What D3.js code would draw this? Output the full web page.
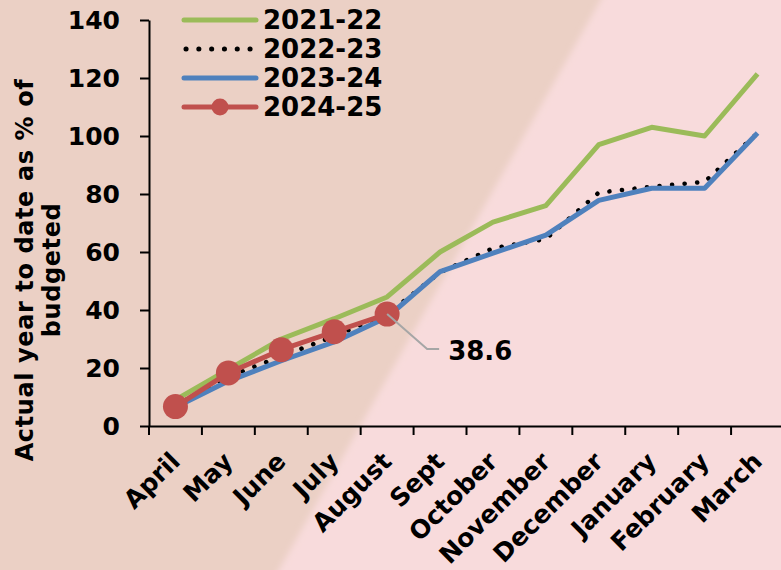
<!DOCTYPE html>
<html>
<head>
<meta charset="utf-8">
<script src="https://cdn.jsdelivr.net/npm/d3@7"></script>
<style>
  body { margin: 0; overflow: hidden; }
  text { font-family: "DejaVu Sans", Verdana, sans-serif; font-weight: bold; fill: #000; }
</style>
</head>
<body>
<div id="chart"></div>
<script>
// data
const months = ["April", "May", "June", "July", "August", "Sept", "October",
                "November", "December", "January", "February", "March"];
const fy2122 = [9, 19.5, 30, 37, 44.5, 60, 70.3, 76, 97, 103, 100, 121.4];
const fy2223 = [7, 17, 24, 31, 38.5, 53, 61.3, 64.5, 80.5, 82.5, 84.2, 101];
const fy2324 = [6.5, 15.5, 22.5, 29, 37.5, 53.2, 59.6, 65.8, 77.8, 82, 82, 101];
const fy2425 = [6.7, 18.3, 26.3, 32.5, 38.6];
const yTicks = [0, 20, 40, 60, 80, 100, 120, 140];
const seriesNames = ["2021-22", "2022-23", "2023-24", "2024-25"];

const W = 781, H = 570;
const svg = d3.select("#chart").append("svg")
    .attr("width", W)
    .attr("height", H);

// background: tan on the left, pink on the right, diagonal edge
const defs = svg.append("defs");
defs.append("filter").attr("id", "soft")
    .append("feGaussianBlur").attr("stdDeviation", 3);

svg.append("rect")
    .attr("width", W).attr("height", H)
    .attr("fill", "#EBD0C5");
svg.append("polygon")
    .attr("points", "612,-20 900,-20 900,600 262,600")
    .attr("fill", "#F8DBDC")
    .attr("filter", "url(#soft)");

const x = d3.scaleBand()
    .domain(months)
    .range([149, 784]);

const y = d3.scaleLinear()
    .domain([0, 140])
    .range([426, 20]);

// axes
const yAxis = svg.append("g")
    .attr("transform", "translate(149,0)")
    .call(d3.axisLeft(y).tickValues(yTicks).tickSize(9).tickPadding(20).tickSizeOuter(0));
yAxis.select(".domain").attr("stroke", "#000").attr("stroke-width", 2);
yAxis.selectAll(".tick line").attr("stroke", "#000").attr("stroke-width", 2);
yAxis.selectAll(".tick text")
    .style("font-size", "25px")
    .style("font-family", "DejaVu Sans, Verdana, sans-serif")
    .style("font-weight", "bold");

const xAxis = svg.append("g")
    .attr("transform", "translate(0,426)")
    .call(d3.axisBottom(x).tickSize(0).tickFormat(""));
xAxis.select(".domain").attr("stroke", "#000").attr("stroke-width", 2);

// tick marks between categories
const tickPos = months.map(m => x(m)).concat([x.range()[1]]);
svg.append("g").selectAll("line")
    .data(tickPos)
    .enter().append("line")
    .attr("x1", d => d).attr("x2", d => d)
    .attr("y1", 426).attr("y2", 435)
    .attr("stroke", "#000").attr("stroke-width", 2);

// rotated month labels
svg.append("g").selectAll("text")
    .data(months)
    .enter().append("text")
    .attr("transform", d => `translate(${x(d) + x.bandwidth() / 2 + 6},463) rotate(-45)`)
    .attr("text-anchor", "end")
    .style("font-size", "25px")
    .text(d => d);

// y axis title
const yTitle = svg.append("text")
    .attr("transform", "translate(33,270) rotate(-90)")
    .attr("text-anchor", "middle")
    .style("font-size", "24px")
    .style("letter-spacing", "0.6px");
yTitle.append("tspan").attr("x", 0).attr("y", 0).text("Actual year to date as % of");
yTitle.append("tspan").attr("x", 0).attr("y", 27).text("budgeted");

// lines
const cx = i => x(months[i]) + x.bandwidth() / 2;
const line = d3.line()
    .x((d, i) => cx(i))
    .y(d => y(d));

svg.append("path")
    .datum(fy2122)
    .attr("d", line)
    .attr("fill", "none")
    .attr("stroke", "#9BBB59")
    .attr("stroke-width", 5)
    .attr("stroke-linejoin", "round");

svg.append("path")
    .datum(fy2223)
    .attr("d", line)
    .attr("fill", "none")
    .attr("stroke", "#000")
    .attr("stroke-width", 4.5)
    .attr("stroke-linecap", "round")
    .attr("stroke-dasharray", "0.1 12.5");

svg.append("path")
    .datum(fy2324)
    .attr("d", line)
    .attr("fill", "none")
    .attr("stroke", "#4F81BD")
    .attr("stroke-width", 5)
    .attr("stroke-linejoin", "round");

svg.append("path")
    .datum(fy2425)
    .attr("d", line)
    .attr("fill", "none")
    .attr("stroke", "#C0504D")
    .attr("stroke-width", 5)
    .attr("stroke-linejoin", "round");

svg.append("g").selectAll("circle")
    .data(fy2425)
    .enter().append("circle")
    .attr("cx", (d, i) => cx(i))
    .attr("cy", d => y(d))
    .attr("r", 12.5)
    .attr("fill", "#C0504D");

// data label for the latest value
const last = fy2425.length - 1;
const lx = cx(last), ly = y(fy2425[last]);
svg.append("polyline")
    .attr("points", `${lx},${ly} ${lx + 40},${ly + 35} ${lx + 52},${ly + 35}`)
    .attr("fill", "none")
    .attr("stroke", "#A6A6A6")
    .attr("stroke-width", 2);
svg.append("text")
    .attr("x", lx + 61)
    .attr("y", ly + 46)
    .style("font-size", "26px")
    .text(fy2425[last]);

// legend
const legend = svg.append("g");
const rows = legend.selectAll("g")
    .data(seriesNames)
    .enter().append("g")
    .attr("transform", (d, i) => `translate(184,${20 + i * 29})`);

rows.append("line")
    .attr("x1", 0).attr("x2", 72)
    .attr("y1", 0).attr("y2", 0)
    .attr("stroke", (d, i) => ["#9BBB59", "#000", "#4F81BD", "#C0504D"][i])
    .attr("stroke-width", 5)
    .attr("stroke-linecap", "round")
    .attr("stroke-dasharray", (d, i) => i === 1 ? "0.1 12.7" : null)
    .attr("transform", (d, i) => i === 1 ? "translate(2,0)" : null);

rows.filter((d, i) => i === 3).append("circle")
    .attr("cx", 36).attr("cy", 0).attr("r", 8.5)
    .attr("fill", "#C0504D");

rows.append("text")
    .attr("x", 79)
    .attr("y", 9)
    .style("font-size", "26px")
    .text(d => d);
</script>
</body>
</html>
